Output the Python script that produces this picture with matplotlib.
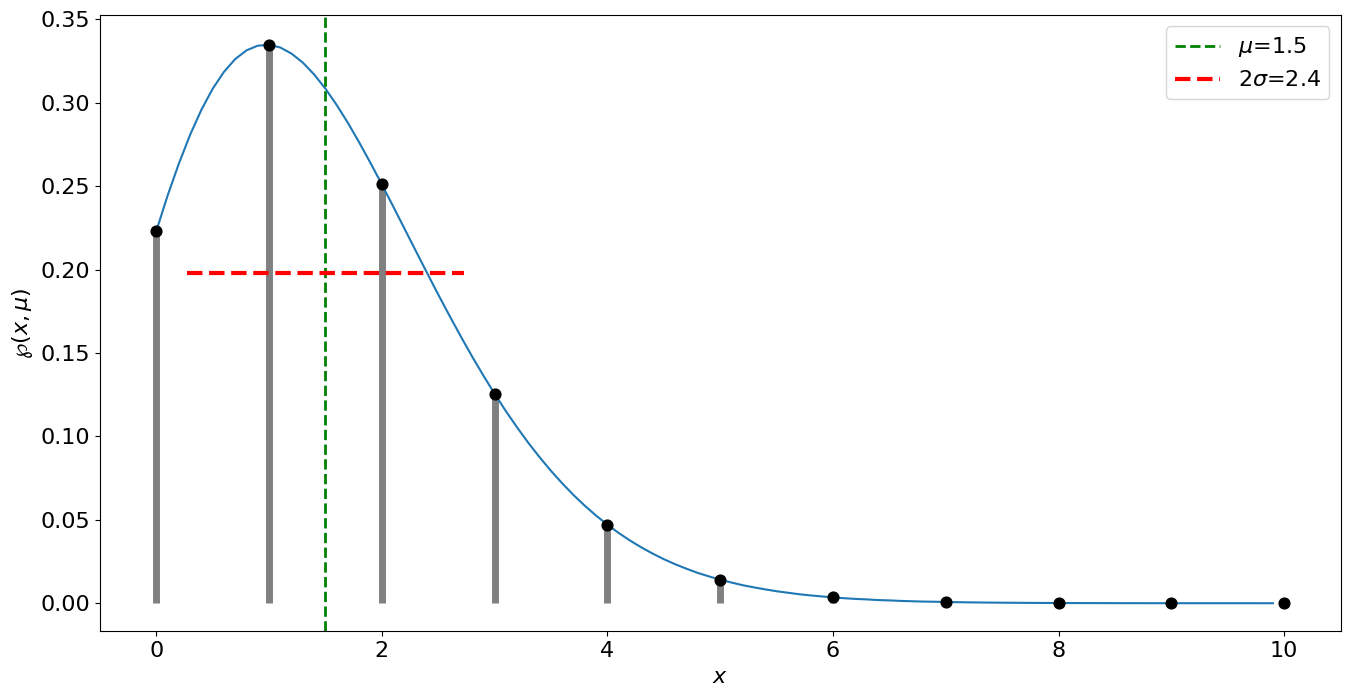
import matplotlib
matplotlib.use("Agg")
import matplotlib.pyplot as plt
import numpy as np

mu = 1.5
two_sigma = 2.4
sigma_line_y = 0.198
sigma_line_x = [0.275, 2.725]

k_values = [0, 1, 2, 3, 4, 5, 6, 7, 8, 9, 10]
pmf_values = [0.2231, 0.3347, 0.2510, 0.1255, 0.0471, 0.0141, 0.0035,
              0.00076, 0.00014, 0.00002, 0.000004]

curve_x = [i / 10 for i in range(100)]
curve_y = [
    0.2231, 0.2443, 0.2635, 0.2808, 0.2958, 0.3084, 0.3185, 0.3262, 0.3314, 0.3342,
    0.3347, 0.3331, 0.3294, 0.3240, 0.3169, 0.3084, 0.2986, 0.2878, 0.2761, 0.2638,
    0.2510, 0.2379, 0.2246, 0.2113, 0.1981, 0.1850, 0.1723, 0.1599, 0.1479, 0.1365,
    0.1255, 0.1151, 0.1053, 0.0960, 0.0874, 0.0793, 0.0718, 0.0648, 0.0584, 0.0525,
    0.0471, 0.0421, 0.0376, 0.0335, 0.0298, 0.0264, 0.0234, 0.0207, 0.0182, 0.0161,
    0.0141, 0.0124, 0.0108, 0.0095, 0.0083, 0.0072, 0.0063, 0.0054, 0.0047, 0.0041,
    0.0035, 0.0030, 0.0026, 0.0023, 0.0019, 0.0017, 0.0014, 0.0012, 0.0010, 0.0009,
    0.00076, 0.00064, 0.00054, 0.00046, 0.00039, 0.00033, 0.00028, 0.00023, 0.00020, 0.00017,
    0.00014, 0.00012, 0.00010, 0.00008, 0.00007, 0.00006, 0.00005, 0.00004, 0.00003, 0.00003,
    0.00002, 0.00002, 0.00002, 0.00001, 0.00001, 0.00001, 0.00001, 0.00001, 0.00000, 0.00000,
]

fig = plt.figure(figsize=(13.5, 6.96), dpi=100)
ax = fig.add_axes([0.074, 0.093, 0.919, 0.885])

ax.vlines(k_values, 0, pmf_values, colors='gray', linewidth=5)
ax.scatter(k_values, pmf_values, color='black', s=60, zorder=3)
ax.plot(curve_x, curve_y, color='tab:blue', linewidth=1.5)
ax.axvline(mu, color='green', linestyle='--', linewidth=2, label=r'$\mu$=' + str(mu))
ax.hlines(sigma_line_y, sigma_line_x[0], sigma_line_x[1], colors='red',
          linestyles='--', linewidth=3, label=r'2$\sigma$=' + str(two_sigma))

ax.set_xlim(-0.5, 10.5)
ax.set_ylim(-0.0168, 0.3524)
ax.set_xlabel(r'$x$', fontsize=16)
ax.set_ylabel(r'$\wp(x,\mu)$', fontsize=16)
ax.tick_params(labelsize=16)
ax.legend(fontsize=16, loc='upper right')

fig.savefig('out.png', dpi=100)
